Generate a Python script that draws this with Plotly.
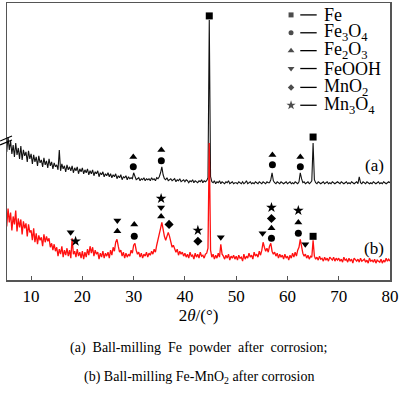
import numpy as np
import plotly.graph_objects as go

# ---------------- data ----------------
theta_start = 5.0
theta_step = 0.25
# (a) Ball-milling Fe powder after corrosion (a.u., 301 points from 5 to 80 deg)
a_intensity = [
    137,129,144,131,140,127,136,124,138,126,133,122,135,121,131,125,129,119,130,122,
    127,117,126,119,124,115,125,118,121,114,123,116,120,113,122,115,119,112,118,114,
    116,111,131,110,117,112,115,109,116,111,114,110,115,108,113,110,114,107,112,109,
    113,107,111,108,112,106,110,107,111,105,109,107,110,104,108,106,109,104,107,105,
    108,104,107,103,106,104,107,102,105,103,106,101,104,103,105,101,104,102,103,102,
    108,104,101,102,103,100,102,101,103,100,102,101,102,100,103,101,102,100,103,102,
    104,108,114,106,102,101,103,100,101,102,100,101,102,99,101,100,102,99,100,101,
    99,101,100,98,100,99,101,98,100,99,98,100,99,101,98,100,99,100,103,262,
    104,99,98,100,97,99,98,100,97,99,98,97,99,98,100,97,98,99,97,98,
    98,97,99,98,97,99,97,98,100,97,98,99,97,98,97,99,98,97,99,98,
    97,99,98,97,99,98,98,101,108,100,98,97,99,98,97,99,98,97,98,99,
    97,98,99,97,98,97,99,98,97,99,108,102,98,99,97,98,99,97,98,100,
    138,101,98,97,99,98,97,98,99,97,98,99,97,98,97,99,98,97,98,99,
    98,97,99,98,97,98,99,97,98,97,99,98,97,98,99,97,104,98,97,99,
    98,97,99,98,97,98,97,99,98,97,98,99,97,98,97,99,98,97,98,99,
    98,
]
# (b) Ball-milling Fe-MnO2 after corrosion
b_intensity = [
    66,54,72,58,68,50,64,56,70,49,62,53,61,46,59,52,57,44,56,48,
    50,40,52,38,47,36,45,40,43,34,46,38,44,39,42,33,37,30,36,29,
    33,24,31,26,34,23,30,25,32,24,30,22,42,26,29,23,31,24,28,22,
    29,21,28,23,31,25,34,27,33,24,30,26,28,21,27,23,29,22,27,24,
    28,22,30,25,33,29,38,41,34,28,30,24,28,22,27,23,26,24,30,27,
    35,37,30,26,28,23,27,22,26,24,28,23,27,25,29,26,31,28,35,40,
    46,52,58,50,44,40,45,48,44,38,33,35,30,28,31,25,29,26,28,24,
    27,23,26,22,28,24,25,21,27,23,26,22,28,24,25,22,26,27,32,138,
    30,23,26,21,25,22,27,23,36,26,24,21,25,22,26,20,24,22,25,21,
    24,20,25,22,23,19,26,21,24,22,27,23,25,21,28,24,26,23,29,25,
    30,38,33,29,32,28,34,37,29,26,28,24,27,22,26,23,25,21,26,22,
    24,20,25,22,27,23,28,24,30,33,41,32,27,24,26,22,25,21,24,23,
    40,24,21,23,20,24,21,22,19,23,20,22,19,23,21,20,23,19,22,20,
    22,19,21,18,23,20,21,18,22,19,21,17,22,20,19,21,18,22,19,20,
    21,18,20,17,22,19,20,18,21,17,20,19,18,21,17,20,18,22,19,21,
    19,
]

# phase identification marks: 2theta position and height of the mark
fe_pos = [44.75, 65.0, 65.0]
fe_h = [266, 144, 44]
fe3o4_pos = [29.93, 35.4, 57.07, 62.51, 30.12, 56.88, 62.12]
fe3o4_h = [114, 120, 116, 114, 44, 42, 47]
fe2o3_pos = [29.93, 35.4, 57.07, 62.51, 26.82, 30.12, 35.36, 56.88, 62.12]
fe2o3_h = [124, 131, 126, 124, 49, 56, 64, 52, 58]
feooh_pos = [17.71, 26.82, 35.36, 47.0, 55.14, 63.48]
feooh_h = [48, 60, 73, 43, 47, 36]
mno2_pos = [36.91, 42.53, 56.88]
mno2_h = [56, 39, 62]
mn3o4_pos = [18.68, 35.36, 42.53, 56.88, 62.12]
mn3o4_h = [39, 82, 50, 73, 70]

phase_names = ["Fe", "Fe<sub>3</sub>O<sub>4</sub>", "Fe<sub>2</sub>O<sub>3</sub>",
               "FeOOH", "MnO<sub>2</sub>", "Mn<sub>3</sub>O<sub>4</sub>"]
phase_symbols = ["square", "circle", "triangle-up", "triangle-down", "diamond", "star"]
phase_sizes = [7, 7, 7, 7, 7, 8]
legend_sizes = [5, 5, 6, 6, 5, 7]

x_ticks = [10, 20, 30, 40, 50, 60, 70, 80]
caption_a = "(a)&nbsp; Ball-milling&nbsp; Fe&nbsp; powder&nbsp; after&nbsp; corrosion;"
caption_b = "(b) Ball-milling Fe-MnO<sub>2</sub> after corrosion"

# ---------------- figure ----------------
FONT = "'Liberation Serif', 'Times New Roman', Times, serif"
two_theta = theta_start + theta_step * np.arange(len(a_intensity))

fig = go.Figure()
fig.add_trace(go.Scatter(x=two_theta, y=a_intensity, mode="lines",
                         line=dict(color="#111111", width=1.1), hoverinfo="skip"))
fig.add_trace(go.Scatter(x=two_theta, y=b_intensity, mode="lines",
                         line=dict(color="#ff1010", width=1.3), hoverinfo="skip"))

positions = [fe_pos, fe3o4_pos, fe2o3_pos, feooh_pos, mno2_pos, mn3o4_pos]
heights = [fe_h, fe3o4_h, fe2o3_h, feooh_h, mno2_h, mn3o4_h]
for pos, h, sym, sz in zip(positions, heights, phase_symbols, phase_sizes):
    fig.add_trace(go.Scatter(x=pos, y=h, mode="markers",
                             marker=dict(symbol=sym, size=sz, color="black",
                                         line=dict(width=0)),
                             hoverinfo="skip"))

# legend (drawn manually, top right)
leg_marker_x = 60.7
leg_dash_x0, leg_dash_x1 = 62.5, 65.7
leg_text_x = 66.8
leg_y = [267, 249, 231, 213, 194, 176]
fig.add_trace(go.Scatter(x=[leg_marker_x] * 6, y=leg_y, mode="markers",
                         marker=dict(symbol=phase_symbols, size=legend_sizes,
                                     color="black", line=dict(width=0)),
                         hoverinfo="skip"))
shapes = []
annotations = []
for name, yy in zip(phase_names, leg_y):
    shapes.append(dict(type="line", xref="x", yref="y", x0=leg_dash_x0, x1=leg_dash_x1,
                       y0=yy, y1=yy, line=dict(color="black", width=1.3)))
    annotations.append(dict(x=leg_text_x, y=yy, xref="x", yref="y", text=name,
                            showarrow=False, xanchor="left", yanchor="middle",
                            font=dict(family=FONT, size=18, color="black")))

# curve labels
annotations.append(dict(x=76.9, y=115, xref="x", yref="y", text="(a)", showarrow=False,
                        font=dict(family=FONT, size=17, color="black")))
annotations.append(dict(x=76.9, y=32, xref="x", yref="y", text="(b)", showarrow=False,
                        font=dict(family=FONT, size=17, color="black")))

# axis break marks on left
for dy in (0, 4):
    shapes.append(dict(type="line", xref="paper", yref="paper",
                       x0=-0.018, x1=0.013, y0=(280 - 140 - dy) / 279, y1=(280 - 135 - dy) / 279,
                       line=dict(color="black", width=1.2)))

# captions below
annotations.append(dict(x=0.5, y=0, xref="paper", yref="paper", text=caption_a,
                        showarrow=False, yanchor="middle", yshift=-68,
                        font=dict(family=FONT, size=14, color="black")))
annotations.append(dict(x=0.5, y=0, xref="paper", yref="paper", text=caption_b,
                        showarrow=False, yanchor="middle", yshift=-97,
                        font=dict(family=FONT, size=14, color="black")))

fig.update_layout(
    width=400, height=393,
    margin=dict(l=7, r=8, t=1, b=113),
    paper_bgcolor="white", plot_bgcolor="white",
    showlegend=False,
    font=dict(family=FONT, color="black"),
    shapes=shapes, annotations=annotations,
    xaxis=dict(range=[5.3, 80], tickmode="array", tickvals=x_ticks,
               ticks="inside", ticklen=4, tickcolor="#555555", tickwidth=1,
               showline=True, linecolor="#555555", linewidth=1.5, mirror=True,
               showgrid=False, zeroline=False, ticklabeloverflow="allow",
               tickfont=dict(family=FONT, size=17, color="black"),
               title=dict(text="2<i>θ</i>/(°)", standoff=4,
                          font=dict(family=FONT, size=17, color="black"))),
    yaxis=dict(range=[0, 279], showticklabels=False, ticks="",
               showline=True, linecolor="#555555", linewidth=1.5, mirror=True,
               showgrid=False, zeroline=False),
)

fig.write_html("out.html", config={"displayModeBar": False, "staticPlot": True},
               post_script="document.body.style.margin='0px';")
